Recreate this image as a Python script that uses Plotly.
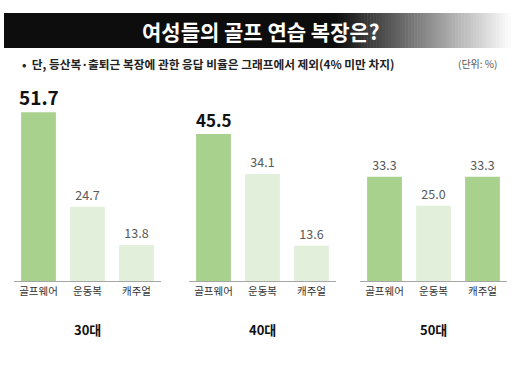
import plotly.graph_objects as go

categories = ["골프웨어", "운동복", "캐주얼"]
groups = ["30대", "40대", "50대"]
values = {
    "30대": [51.7, 24.7, 13.8],
    "40대": [45.5, 34.1, 13.6],
    "50대": [33.3, 25.0, 33.3],
}
highlight = {
    "30대": [True, False, False],
    "40대": [True, False, False],
    "50대": [True, False, True],
}
title_text = "여성들의 골프 연습 복장은?"
note_text = "•  단, 등산복·출퇴근 복장에 관한 응답 비율은 그래프에서 제외(4% 미만 차지)"
unit_text = "(단위: %)"

W, H = 520, 390
DARK = "#a9d18e"
LIGHT = "#e2efda"
FONT = "Noto Sans CJK KR"

panels_px = [(14, 161), (189, 336), (360, 507)]
baseline_px = 281
px_per_unit = 3.5
ymin, ymax = 3.5, 56
y0 = (H - baseline_px) / H
y1 = (H - (baseline_px - (ymax - ymin) * px_per_unit)) / H


def px(x):
    return x / W


def py(y):
    return (H - y) / H


fig = go.Figure()
for i, g in enumerate(groups):
    vals = values[g]
    cols = [DARK if h else LIGHT for h in highlight[g]]
    texts = [f"{v:.1f}" for v in vals]
    big = i < 2
    suffix = "" if i == 0 else str(i + 1)
    shown = ["", texts[1], texts[2]] if big else texts
    fig.add_trace(go.Bar(
        x=categories, y=vals, marker=dict(color=cols, line=dict(width=0)),
        width=0.71,
        text=shown, textposition="outside", cliponaxis=False,
        textfont=dict(family=FONT, size=12.5, color="#595959"),
        xaxis="x" + suffix, yaxis="y" + suffix, showlegend=False,
        hoverinfo="skip",
    ))
    if big:
        fig.add_annotation(
            x=categories[0], y=vals[0], xref="x" + suffix, yref="y" + suffix,
            text=f"<b>{texts[0]}</b>", showarrow=False, yanchor="bottom", yshift=0,
            font=dict(family=FONT, size=19 if i == 0 else 17, color="#111111"),
        )
    xa = dict(domain=[px(panels_px[i][0]), px(panels_px[i][1])], range=[-0.5, 2.5],
              showline=True, linecolor="#a6a6a6",
              linewidth=1, showgrid=False, zeroline=False, ticks="",
              tickfont=dict(family=FONT, size=10.5, color="#333333"),
              anchor="y" + suffix, fixedrange=True)
    ya = dict(domain=[y0, y1], range=[ymin, ymax], visible=False, fixedrange=True,
              anchor="x" + suffix)
    fig.update_layout(**{"xaxis" + suffix: xa, "yaxis" + suffix: ya})
    fig.add_annotation(
        x=px((panels_px[i][0] + panels_px[i][1]) / 2), y=py(329),
        xref="paper", yref="paper", text=f"<b>{g}</b>", showarrow=False,
        xanchor="center", yanchor="middle",
        font=dict(family=FONT, size=13, color="#111111"),
    )

# Title bar with gradient to white
shapes = []
x_left, x_right, top, bot = 4, 511, 13, 48
grad_start = 335
shapes.append(dict(type="rect", xref="paper", yref="paper",
                   x0=px(x_left), x1=px(grad_start), y0=py(bot), y1=py(top),
                   fillcolor="#0d0d0d", line=dict(width=0), layer="below"))
steps = 60
for k in range(steps):
    xa0 = grad_start + (x_right - grad_start) * k / steps
    xa1 = grad_start + (x_right - grad_start) * (k + 1) / steps + 0.5
    t = (k + 0.5) / steps
    c = int(13 + (255 - 13) * t)
    shapes.append(dict(type="rect", xref="paper", yref="paper",
                       x0=px(xa0), x1=px(min(xa1, x_right)), y0=py(bot), y1=py(top),
                       fillcolor=f"rgb({c},{c},{c})", line=dict(width=0), layer="below"))

fig.add_annotation(x=px(261), y=py(31), xref="paper", yref="paper",
                   text=f"<b>{title_text}</b>", showarrow=False,
                   xanchor="center", yanchor="middle",
                   font=dict(family=FONT, size=21, color="white"))
fig.add_annotation(x=px(20), y=py(64), xref="paper", yref="paper",
                   text=f"<b>{note_text}</b>", showarrow=False,
                   xanchor="left", yanchor="middle",
                   font=dict(family=FONT, size=11.7, color="#222222"))
fig.add_annotation(x=px(499), y=py(64), xref="paper", yref="paper",
                   text=unit_text, showarrow=False,
                   xanchor="right", yanchor="middle",
                   font=dict(family=FONT, size=10, color="#555555"))

fig.update_layout(width=W, height=H, margin=dict(l=0, r=0, t=0, b=0),
                  paper_bgcolor="white", plot_bgcolor="white", shapes=shapes,
                  font=dict(family=FONT))
fig.write_html("out.html", config={"displayModeBar": False, "staticPlot": True},
               post_script="document.body.style.margin='0';")
